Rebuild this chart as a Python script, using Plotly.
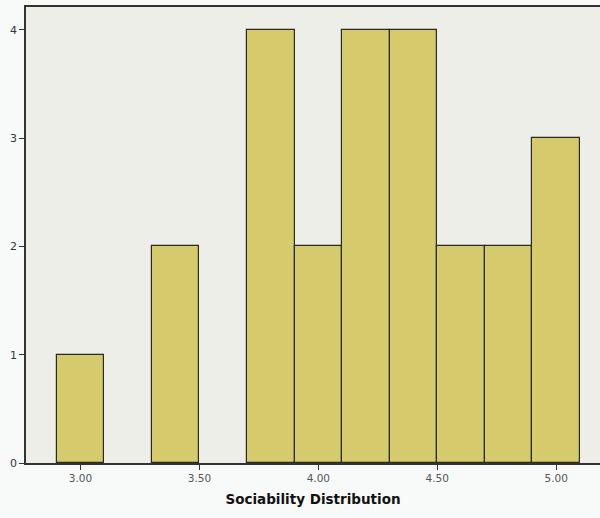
import plotly.graph_objects as go

# Histogram bins (centres, width 0.2) and their frequencies
bin_centres = [3.0, 3.4, 3.8, 4.0, 4.2, 4.4, 4.6, 4.8, 5.0]
frequencies = [1, 2, 4, 2, 4, 4, 2, 2, 3]
bin_width = 0.2

x_ticks = [3.0, 3.5, 4.0, 4.5, 5.0]
x_tick_labels = ["3.00", "3.50", "4.00", "4.50", "5.00"]
y_ticks = [0, 1, 2, 3, 4]

fig = go.Figure(
    go.Bar(
        x=bin_centres,
        y=frequencies,
        width=[bin_width] * len(bin_centres),
        marker=dict(color="#D6CB6C", line=dict(color="#2a2a22", width=1.2)),
        hoverinfo="x+y",
    )
)

fig.update_layout(
    width=600,
    height=518,
    margin=dict(l=26, r=0, t=7, b=55),
    paper_bgcolor="#F8FAFA",
    plot_bgcolor="#EEEEE8",
    showlegend=False,
    bargap=0,
    font=dict(family="DejaVu Sans", color="#222"),
)

fig.update_xaxes(
    range=[2.771, 5.184],
    tickvals=x_ticks,
    ticktext=x_tick_labels,
    ticks="outside",
    ticklen=5,
    tickcolor="#333",
    tickfont=dict(size=10.5, color="#555"),
    showgrid=False,
    zeroline=False,
    showline=True,
    linecolor="#333",
    linewidth=1.5,
    mirror=True,
    title=dict(
        text="<b>Sociability Distribution</b>",
        font=dict(size=13.5, color="#111"),
        standoff=11,
    ),
)

fig.update_yaxes(
    range=[0, 4.212],
    tickvals=y_ticks,
    ticks="outside",
    ticklen=5,
    tickcolor="#333",
    tickfont=dict(size=11, color="#333"),
    showgrid=False,
    zeroline=False,
    showline=True,
    linecolor="#333",
    linewidth=1.5,
)

fig.write_html("out.html")
